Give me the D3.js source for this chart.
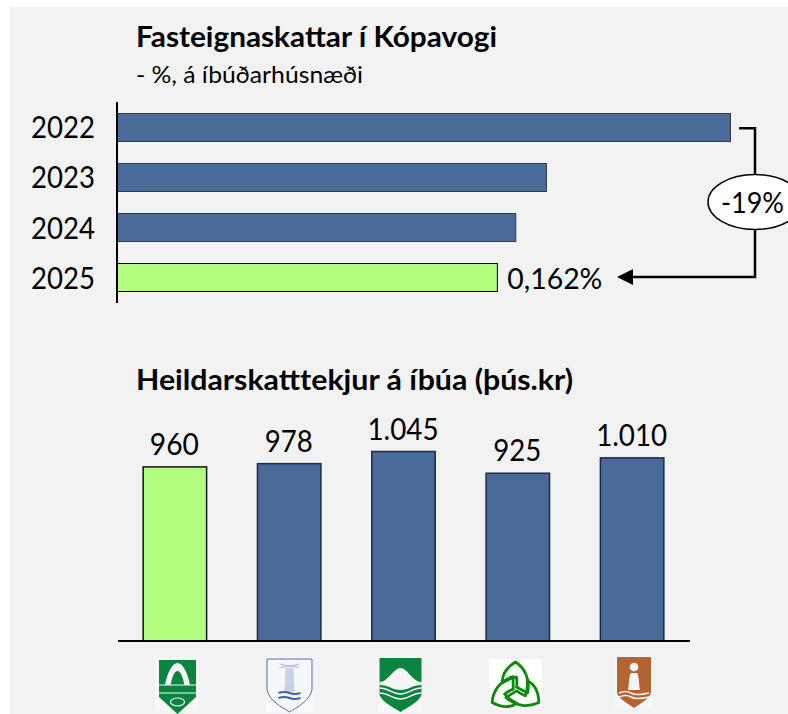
<!DOCTYPE html>
<html><head><meta charset="utf-8">
<script src="https://cdn.jsdelivr.net/npm/d3@7"></script>
<style>html,body{margin:0;padding:0;background:#fff}svg{display:block}text{font-family:Lato,"Open Sans",sans-serif;fill:#000}</style>
</head><body><svg id="c" width="788" height="714"></svg>
<script>
const years=["2022","2023","2024","2025"];
const rates=[0.2,0.17,0.165,0.162];
const municipalities=["Kópavogur","Garðabær","Mosfellsbær","Hafnarfjörður","Reykjanesbær"];
const revenue=[960,978,1045,925,1010];
const revenueLabels=["960","978","1.045","925","1.010"];
const highlightYear="2025", highlightTown="Kópavogur";
const BLUE="#4a6a9a",GREEN="#b5ff80";
const WHITE="#f5f5f5";

const svg=d3.select("#c");
svg.append("rect").attr("x",10).attr("y",7).attr("width",778).attr("height",707).attr("fill","#f2f2f2");

const squeeze=(s)=>s.attr("lengthAdjust","spacingAndGlyphs");
squeeze(svg.append("text").attr("x",136).attr("y",47).attr("font-size",29).attr("font-weight",700).attr("textLength",361)).text("Fasteignaskattar í Kópavogi");
squeeze(svg.append("text").attr("x",136).attr("y",83).attr("font-size",23).attr("textLength",227)).text("- %, á íbúðarhúsnæði");
squeeze(svg.append("text").attr("x",136).attr("y",390).attr("font-size",29).attr("font-weight",700).attr("textLength",437)).text("Heildarskatttekjur á íbúa (þús.kr)");

// top chart
const x=d3.scaleLinear().domain([0.1,0.2]).range([117,730.5]);
const yBand=d3.scaleBand().domain(years).range([102,303]);
const barH=28;
svg.append("g").selectAll("rect").data(years).join("rect")
 .attr("x",x(0.1)).attr("y",d=>Math.floor(yBand(d)+yBand.bandwidth()/2-barH/2)+0.5)
 .attr("width",(d,i)=>x(rates[i])-x(0.1)).attr("height",barH)
 .attr("fill",d=>d===highlightYear?GREEN:BLUE)
 .attr("stroke",d=>d===highlightYear?"#000":"#303a48").attr("stroke-width",1);
svg.append("line").attr("x1",117).attr("x2",117).attr("y1",102).attr("y2",303).attr("stroke","#000").attr("stroke-width",2);
squeeze(svg.append("g").selectAll("text").data(years).join("text")
 .attr("x",95).attr("y",d=>yBand(d)+yBand.bandwidth()/2+11).attr("text-anchor","end").attr("font-size",30).attr("textLength",64)).text(d=>d);
squeeze(svg.append("text").attr("x",x(0.162)+10).attr("y",289).attr("font-size",29).attr("textLength",95)).text("0,162%");

// annotation
const brX=755, y0=yBand("2022")+yBand.bandwidth()/2+1, y1=277;
svg.append("path").attr("d",`M739,${y0}H${brX}V${y1}H632`).attr("fill","none").attr("stroke","#000").attr("stroke-width",2.5);
svg.append("path").attr("d",`M617,${y1}L633,${y1-8}V${y1+8}Z`).attr("fill","#000");
svg.append("ellipse").attr("cx",755).attr("cy",202).attr("rx",47).attr("ry",27.5).attr("fill","#fff").attr("stroke","#000").attr("stroke-width",1.5);
squeeze(svg.append("text").attr("x",721).attr("y",213).attr("font-size",28).attr("textLength",63)).text("-19%");

// bottom chart
const xb=d3.scaleBand().domain(municipalities).range([118,689]).paddingInner(0.445).paddingOuter(0.22);
const yb=d3.scaleLinear().domain([0,1045]).range([641,451.5]);
svg.append("g").selectAll("rect").data(municipalities).join("rect")
 .attr("x",d=>xb(d)).attr("y",(d,i)=>yb(revenue[i])).attr("width",xb.bandwidth())
 .attr("height",(d,i)=>yb(0)-yb(revenue[i]))
 .attr("fill",d=>d===highlightTown?GREEN:BLUE)
 .attr("stroke",d=>d===highlightTown?"#111":"#1c2c44").attr("stroke-width",1.5);
svg.append("line").attr("x1",118).attr("x2",690).attr("y1",641).attr("y2",641).attr("stroke","#000").attr("stroke-width",2);
const lw=[49,48,71,48,71];
squeeze(svg.append("g").selectAll("text").data(municipalities).join("text")
 .attr("x",d=>xb(d)+xb.bandwidth()/2-0.5).attr("y",(d,i)=>yb(revenue[i])-12).attr("text-anchor","middle").attr("font-size",30).attr("textLength",(d,i)=>lw[i])).text((d,i)=>revenueLabels[i]);

// crests (decorative municipal logos)
const g1=svg.append("g").attr("transform","translate(177.5,660)");
g1.append("rect").attr("x",-22.5).attr("y",-3).attr("width",44).attr("height",54).attr("fill","#f8f8f8");
g1.append("path").attr("d","M-18.5,0H18.5V37L0,54L-18.5,37Z").attr("fill","#0b8440");
g1.append("path").attr("d","M-12.5,25C-10,12 -5,3 0,3C5,3 10,12 12.5,25H7C5,16 3,11 0,11C-3,11 -5,16 -7,25Z").attr("fill",WHITE);
g1.append("path").attr("d","M-18.5,25H18.5M-18.5,33H18.5").attr("stroke",WHITE).attr("stroke-width",1.2);
g1.append("ellipse").attr("cx",0).attr("cy",42).attr("rx",7).attr("ry",4).attr("fill","none").attr("stroke",WHITE).attr("stroke-width",1.2);

const g2=svg.append("g").attr("transform","translate(289.5,659)");
g2.append("rect").attr("x",-23.5).attr("y",-2).attr("width",47).attr("height",55).attr("fill","#fcfcfc");
g2.append("path").attr("d","M-22.5,0H22.5V31C20,42 8,48 0,53C-8,48 -20,42 -22.5,31Z").attr("fill","#f6f7fb").attr("stroke","#4a6ea8").attr("stroke-width",1);
g2.append("path").attr("d","M-10,5L10,9M10,5L-10,9M-8,7H8").attr("stroke","#a8b8d4").attr("stroke-width",0.8);
g2.append("path").attr("d","M-4,9H4L5,33H-5Z").attr("fill","#c6d2e6");
g2.append("path").attr("d","M-11,34Q-5,32 0,34T11,34M-11,39Q-5,37 0,39T11,39").attr("fill","none").attr("stroke","#3c62a4").attr("stroke-width",2);

const g3=svg.append("g").attr("transform","translate(400.5,658)");
g3.append("rect").attr("x",-22.5).attr("y",-1).attr("width",45).attr("height",55).attr("fill","#f8f8f8");
g3.append("path").attr("d","M-21,0H21V37C18,44 8,49 0,54C-8,49 -18,44 -21,37Z").attr("fill","#0b8440");
g3.append("path").attr("d","M-21,24C-12,24 -7,10 0,10C7,10 12,24 21,24V27C12,27 8,32 0,32C-8,32 -12,27 -21,27Z").attr("fill",WHITE);
g3.append("path").attr("d","M-21,30C-12,30 -8,36 0,36C8,36 12,30 21,30M-21,35C-12,35 -8,41 0,41C8,41 12,35 21,35").attr("fill","none").attr("stroke",WHITE).attr("stroke-width",1.6);

const g4=svg.append("g").attr("transform","translate(515.5,689)");
g4.append("rect").attr("x",-26.5).attr("y",-30).attr("width",53).attr("height",47).attr("fill","#fff");
g4.append("g").attr("fill","none").attr("stroke","#0a8a0a").attr("stroke-width",2.8).attr("stroke-linejoin","round")
 .selectAll("path").data([0,120,240]).join("path").attr("transform",d=>`rotate(${d})`)
 .attr("d","M0,-27C9,-21 15,-10 12,4L1,-2C2,-6 1,-10 1,-12C-4,-11 -9,-9 -13,-6C-14,-15 -8,-22 0,-27Z");

const g5=svg.append("g").attr("transform","translate(634,657)");
g5.append("rect").attr("x",-19).attr("y",-1).attr("width",38).attr("height",52).attr("fill","#f8f8f8");
g5.append("path").attr("d","M-17,0H17V35C17,40 8,46 0,51C-8,46 -17,40 -17,35Z").attr("fill","#b46431");
g5.append("circle").attr("cx",0).attr("cy",10).attr("r",4.3).attr("fill",WHITE);
g5.append("path").attr("d","M-3,16H3C5,18 5,28 6,33H-6C-5,28 -5,18 -3,16Z").attr("fill",WHITE);
g5.append("path").attr("d","M-15,36Q-8,33 -3,36T15,36M-15,40Q-8,37 -3,40T15,40").attr("fill","none").attr("stroke",WHITE).attr("stroke-width",1.5);
</script></body></html>
